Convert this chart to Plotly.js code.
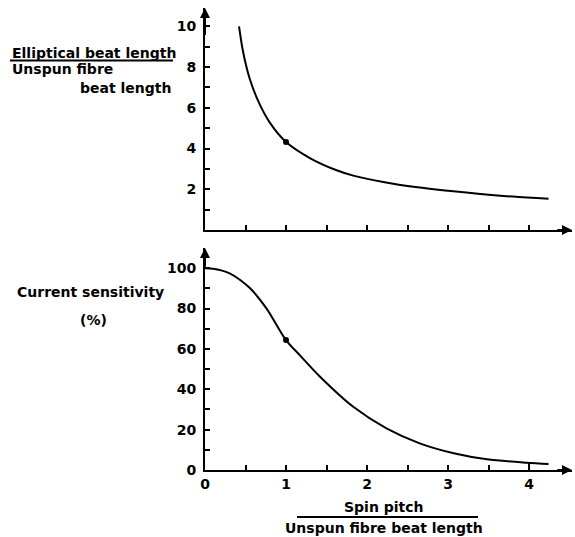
<!DOCTYPE html>
<html>
<head>
<meta charset="utf-8">
<script src="https://cdn.plot.ly/plotly-3.0.1.min.js"></script>
<style>html,body{margin:0;padding:0;background:#fff;}#chart{width:575px;height:537px;}</style>
</head>
<body>
<div id="chart"></div>
<script>
// Top panel: elliptical beat length / unspun fibre beat length vs spin pitch ratio
var topX = [0.42, 0.47, 0.55, 0.66, 0.80, 1.00, 1.30, 1.60, 1.83, 2.20, 2.57, 3.00, 3.40, 3.80, 4.24];
var topY = [10.0, 8.75, 7.45, 6.30, 5.27, 4.32, 3.52, 2.97, 2.67, 2.36, 2.12, 1.93, 1.77, 1.64, 1.53];
// Bottom panel: current sensitivity (%) vs spin pitch ratio
var botX = [0, 0.10, 0.20, 0.31, 0.43, 0.56, 0.76, 1.00, 1.17, 1.42, 1.83, 2.24, 2.65, 3.07, 3.48, 3.97, 4.24];
var botY = [100, 99.7, 98.9, 97.3, 94.3, 89.9, 80, 64.4, 56.9, 46.2, 31.3, 20.6, 13.2, 8.3, 5.3, 3.6, 3.0];
// highlighted points
var topMarkX = [1.0], topMarkY = [4.32];
var botMarkX = [1.0], botMarkY = [64.4];
// small vertical drop line at x = 4 in the lower panel
var dropX = [4, 4], dropY = [0, 3.6];

// tick positions and labels (blank label = unlabelled tick)
var xTicks = [0, 0.5, 1, 1.5, 2, 2.5, 3, 3.5, 4];
var xTickText = ['0', '', '1', '', '2', '', '3', '', '4'];
var topYTicks = [1, 2, 3, 4, 5, 6, 7, 8, 9, 10];
var topYTickText = ['', '2', '', '4', '', '6', '', '8', '', '10'];
var botYTicks = [0, 10, 20, 30, 40, 50, 60, 70, 80, 90, 100];
var botYTickText = ['0', '', '20', '', '40', '', '60', '', '80', '', '100'];

var xMax = 4.53, topYMax = 10.9, botYMax = 110;

var lineStyle = {color: 'black', width: 2, shape: 'spline', smoothing: 0.9};
var traces = [
  {x: topX, y: topY, xaxis: 'x', yaxis: 'y', mode: 'lines', line: lineStyle},
  {x: topMarkX, y: topMarkY, xaxis: 'x', yaxis: 'y', mode: 'markers', marker: {color: 'black', size: 6}},
  {x: botX, y: botY, xaxis: 'x2', yaxis: 'y2', mode: 'lines', line: lineStyle},
  {x: botMarkX, y: botMarkY, xaxis: 'x2', yaxis: 'y2', mode: 'markers', marker: {color: 'black', size: 6}},
  {x: dropX, y: dropY, xaxis: 'x2', yaxis: 'y2', mode: 'lines', line: {color: 'black', width: 2}}
];

var tickFont = {family: 'DejaVu Sans', size: 14, weight: 'bold', color: 'black'};
var lblFont = {family: 'DejaVu Sans', size: 14, weight: 'bold', color: 'black'};

function xAxis(anchor, labels) {
  return {
    anchor: anchor, range: [0, xMax], showgrid: false, zeroline: false,
    showline: true, linecolor: 'black', linewidth: 2,
    tickmode: 'array', tickvals: xTicks, ticktext: xTickText, showticklabels: labels,
    ticks: 'inside', ticklen: 5, tickwidth: 2, tickcolor: 'black', tickfont: tickFont,
    fixedrange: true
  };
}
function yAxis(anchor, domain, max, vals, text) {
  return {
    anchor: anchor, domain: domain, range: [0, max], showgrid: false, zeroline: false,
    showline: true, linecolor: 'black', linewidth: 2,
    tickmode: 'array', tickvals: vals, ticktext: text,
    ticks: 'inside', ticklen: 5, tickwidth: 2, tickcolor: 'black', tickfont: tickFont,
    ticklabelstandoff: 4,
    fixedrange: true
  };
}

function arrow(xr, yr, x, y, ax, ay) {
  return {xref: xr, yref: yr, axref: xr, ayref: yr, x: x, y: y, ax: ax, ay: ay, text: '',
    showarrow: true, arrowhead: 2, arrowsize: 1, arrowwidth: 2, arrowcolor: 'black', standoff: 0};
}

function lbl(text, x, y, xanchor) {
  return {xref: 'paper', yref: 'paper', x: x, y: y, xanchor: xanchor, yanchor: 'middle',
    text: text, showarrow: false, font: lblFont};
}

// plot area: x 205..572 px, y 8..470 px
function px(p) { return (p - 205) / 367; }
function py(p) { return (470 - p) / 462; }

var layout = {
  width: 575, height: 537,
  margin: {l: 205, r: 3, t: 8, b: 67},
  paper_bgcolor: 'white', plot_bgcolor: 'white',
  showlegend: false,
  xaxis: xAxis('y', false),
  yaxis: yAxis('x', [py(230), 1], topYMax, topYTicks, topYTickText),
  xaxis2: xAxis('y2', true),
  yaxis2: yAxis('x2', [0, py(248)], botYMax, botYTicks, botYTickText),
  annotations: [
    arrow('x', 'y', 0, topYMax, 0, 9.5),
    arrow('x', 'y', xMax, 0, xMax - 0.2, 0),
    arrow('x2', 'y2', 0, botYMax, 0, 100),
    arrow('x2', 'y2', xMax, 0, xMax - 0.2, 0),
    lbl('Elliptical beat length', px(10), py(53), 'left'),
    lbl('Unspun fibre', px(10), py(69), 'left'),
    lbl('beat length', px(173), py(88), 'right'),
    lbl('Current sensitivity', px(15), py(292), 'left'),
    lbl('(%)', px(94), py(320), 'center'),
    lbl('Spin pitch', px(384), py(507), 'center'),
    lbl('Unspun fibre beat length', px(384), py(528), 'center')
  ],
  shapes: [
    {type: 'line', xref: 'paper', yref: 'paper', x0: px(10), x1: px(173), y0: py(60.5), y1: py(60.5),
     line: {color: 'black', width: 2}},
    {type: 'line', xref: 'paper', yref: 'paper', x0: px(297), x1: px(478), y0: py(517), y1: py(517),
     line: {color: 'black', width: 2}}
  ]
};

Plotly.newPlot('chart', traces, layout, {staticPlot: true, displayModeBar: false});
</script>
</body>
</html>
